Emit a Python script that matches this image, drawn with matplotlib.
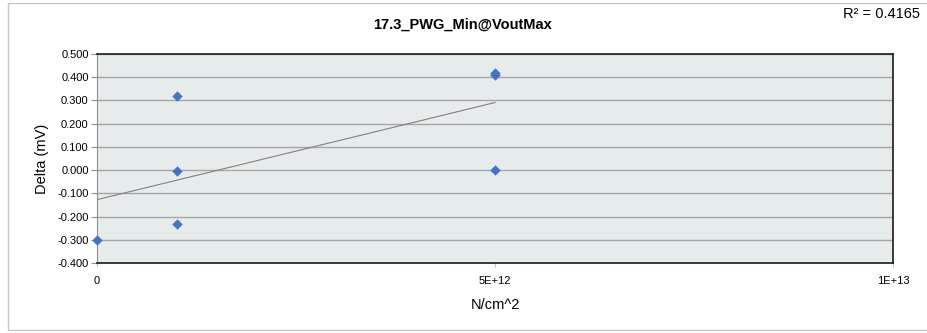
import numpy as np
import matplotlib.pyplot as plt
from matplotlib.patches import Rectangle

# data
x_vals = [0, 1e12, 1e12, 1e12, 5e12, 5e12, 5e12]
y_vals = [-0.300, 0.320, -0.005, -0.230, 0.420, 0.410, 0.000]
x_ticks = [0, 5e12, 1e13]
x_tick_labels = ["0", "5E+12", "1E+13"]
y_ticks = [-0.4, -0.3, -0.2, -0.1, 0.0, 0.1, 0.2, 0.3, 0.4, 0.5]

plt.rcParams['font.family'] = ['Liberation Sans', 'DejaVu Sans']

fig = plt.figure(figsize=(9.28, 3.33), dpi=100)
ax = fig.add_axes([97 / 928, 1 - 263 / 333, 796 / 928, 209 / 333])

# outer chart border
fig.patches.append(Rectangle((8 / 928, 3 / 333), 925 / 928, 327 / 333,
                             transform=fig.transFigure, fill=False,
                             edgecolor='#c8c8c8', linewidth=1.0))

ax.set_facecolor('#e6ebeb')
ax.set_xlim(0, 1e13)
ax.set_ylim(-0.4, 0.5)
ax.set_yticks(y_ticks)
ax.set_yticklabels([f"{v:.3f}" for v in y_ticks], fontsize=8)
ax.set_xticks(x_ticks)
ax.set_xticklabels(x_tick_labels, fontsize=8)
ax.grid(axis='y', color='#a6a6a6', linewidth=1.0)
ax.set_axisbelow(True)

for side in ['top', 'right', 'bottom']:
    ax.spines[side].set_color('#1a1a1a')
    ax.spines[side].set_linewidth(1.2)
ax.spines['left'].set_color('#8c8c8c')
ax.tick_params(axis='y', length=4, color='#8c8c8c', pad=2)
ax.tick_params(axis='x', length=3, color='#c0c0c0', pad=6)

# trend line
xa = np.array(x_vals)
ya = np.array(y_vals)
slope, intercept = np.polyfit(xa, ya, 1)
xl = np.array([0, xa.max()])
ax.plot(xl, slope * xl + intercept, color='#808080', linewidth=0.8, zorder=2)

ax.scatter(x_vals, y_vals, marker='D', s=28, color='#4472c4', zorder=3,
           clip_on=False, linewidths=0)

ax.set_xlabel("N/cm^2", fontsize=10.5, labelpad=9)
ax.set_ylabel("Delta (mV)", fontsize=10.5, labelpad=6)

fig.text(463 / 928, 1 - 25 / 333, "17.3_PWG_Min@VoutMax", ha='center',
         va='center', fontsize=10.5, fontweight='bold')
fig.text(920 / 928, 1 - 14 / 333, "R² = 0.4165", ha='right', va='center',
         fontsize=10.5)

fig.savefig("out.png", dpi=100)
